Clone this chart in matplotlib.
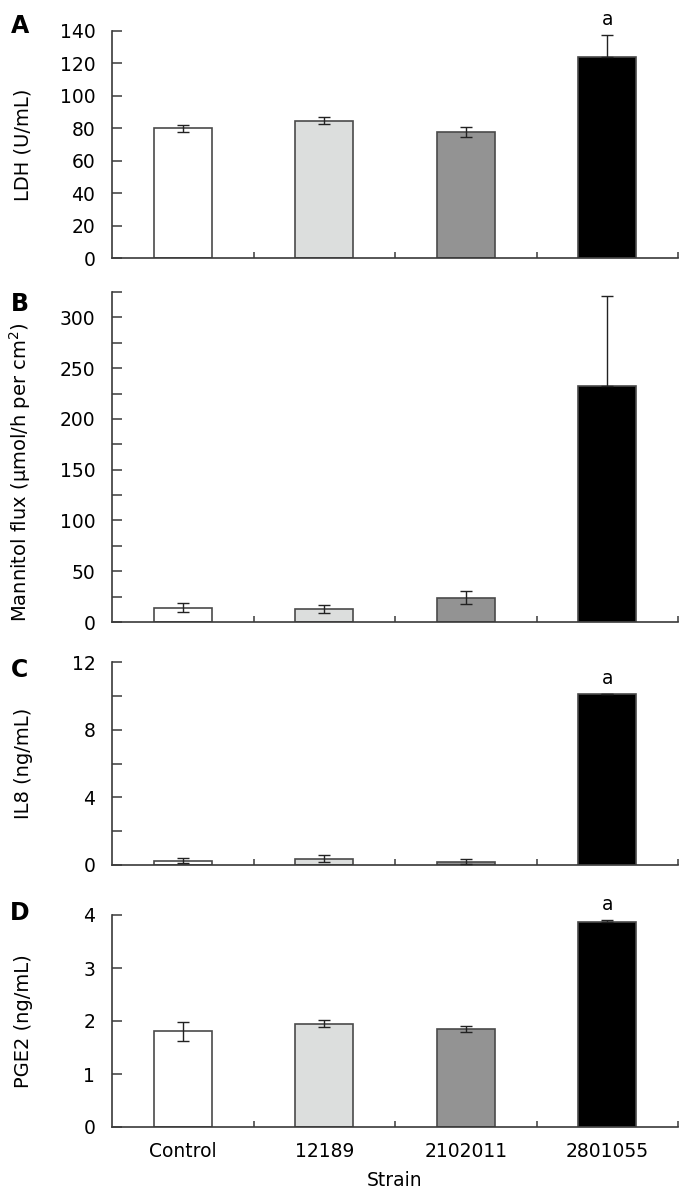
import matplotlib.pyplot as plt
from matplotlib.ticker import MultipleLocator, FixedLocator

plt.rcParams['font.family'] = ['DejaVu Sans']

strains = ['Control', '12189', '2102011', '2801055']
bar_colors = ['#ffffff', '#dcdedd', '#939393', '#000000']

# panel values (mean, error)
ldh = [80, 84.7, 77.7, 124]
ldh_err = [2, 2, 3, 13.5]
mannitol = [14, 12.5, 24, 232.5]
mannitol_err = [4.5, 4, 6.5, 88.5]
il8 = [0.24, 0.37, 0.2, 10.1]
il8_err = [0.15, 0.2, 0.15, 0]
pge2 = [1.81, 1.95, 1.85, 3.87]
pge2_err = [0.18, 0.07, 0.05, 0.04]

panels = [
    ('A', ldh, ldh_err, 'LDH (U/mL)', 140, 20, 20, True),
    ('B', mannitol, mannitol_err, r'Mannitol flux ($\mathregular{\mu}$mol/h per cm$^2$)', 325, 50, 25, False),
    ('C', il8, il8_err, 'IL8 (ng/mL)', 12, 4, 2, True),
    ('D', pge2, pge2_err, 'PGE2 (ng/mL)', 4, 1, 1, True),
]

# axes boxes in pixels: (top, bottom), letter centre y
boxes = [(31, 258), (292, 622), (662, 865), (915, 1127)]
letter_y = [26, 304, 670, 913]
W, H = 689, 1201
left, right = 112, 678

fig = plt.figure(figsize=(W / 100, H / 100), dpi=100)
line_col = '#3a3a3a'

for i, (letter, vals, errs, ylab, ymax, major, minor, mark) in enumerate(panels):
    top, bot = boxes[i]
    ax = fig.add_axes([left / W, 1 - bot / H, (right - left) / W, (bot - top) / H])
    x = [k + 0.5 for k in range(len(strains))]
    ax.bar(x, vals, width=0.41, color=bar_colors, edgecolor='#4a4a4a', linewidth=1.2, zorder=2)
    lower = [0 if c == '#000000' else e for c, e in zip(bar_colors, errs)]
    ax.errorbar(x, vals, yerr=[lower, errs], fmt='none', ecolor='#222222',
                elinewidth=1.0, capsize=4.5, capthick=1.0, zorder=3)
    ax.set_xlim(0, 4)
    ax.set_ylim(0, ymax)
    for s in ['top', 'right']:
        ax.spines[s].set_visible(False)
    for s in ['left', 'bottom']:
        ax.spines[s].set_color(line_col)
        ax.spines[s].set_linewidth(1.2)

    ax.yaxis.set_major_locator(MultipleLocator(major))
    ax.yaxis.set_minor_locator(MultipleLocator(minor))
    ax.tick_params(axis='y', which='both', direction='in', length=7, width=1.1,
                   color=line_col, labelsize=13.5, pad=12)
    ax.xaxis.set_major_locator(FixedLocator(x))
    ax.xaxis.set_minor_locator(FixedLocator([1, 2, 3, 4]))
    ax.tick_params(axis='x', which='major', length=0, labelsize=13.5, pad=11)
    ax.tick_params(axis='x', which='minor', direction='in', length=4, width=1.1, color=line_col)
    if letter == 'D':
        ax.set_xticklabels(strains)
        ax.set_xlabel('Strain', fontsize=13.5, labelpad=7)
    else:
        ax.set_xticklabels([])

    ax.set_ylabel(ylab, fontsize=14)
    ax.yaxis.set_label_coords(-0.14, 0.455 if letter == 'B' else 0.5)

    fig.text(20 / W, 1 - letter_y[i] / H, letter, fontsize=17, fontweight='bold',
             ha='center', va='center')

    if mark:
        ax.annotate('a', (x[3], vals[3] + errs[3]), xytext=(0, 7), textcoords='offset points',
                    ha='center', va='baseline', fontsize=13.5)

fig.savefig('out.png', dpi=100)
